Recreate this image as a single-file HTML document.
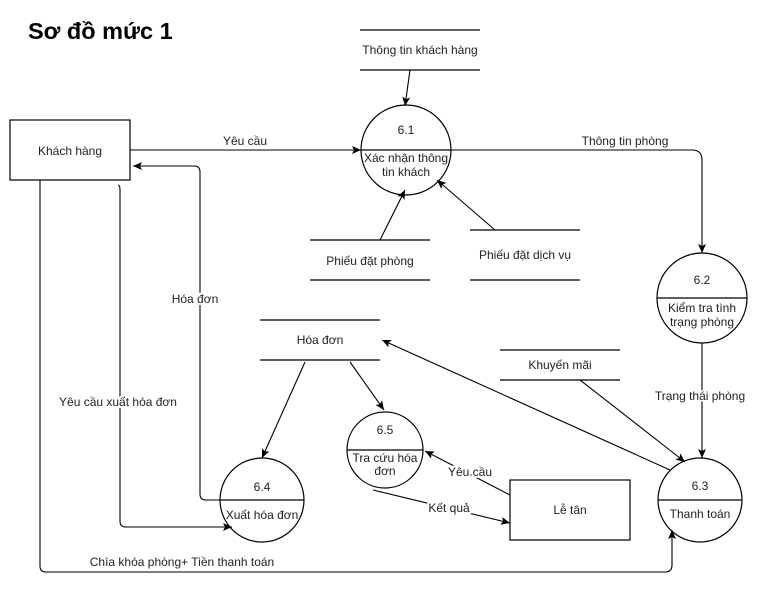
<!DOCTYPE html>
<html><head><meta charset="utf-8"><style>body{margin:0;background:#fff}svg{display:block}text{font-family:"Liberation Sans",sans-serif;font-size:12px;fill:#222}</style></head><body>
<svg width="761" height="589" viewBox="0 0 761 589">
<defs><marker id="a" markerWidth="10" markerHeight="10" refX="9" refY="5" orient="auto" markerUnits="userSpaceOnUse"><path d="M0,1 L9,5 L0,9 L2,5 Z" fill="#000"/></marker></defs>
<rect width="761" height="589" fill="#fff"/>
<text x="28" y="39" style="font-size:23.5px;font-weight:bold;fill:#000">Sơ đồ mức 1</text>
<g fill="none" stroke="#000" stroke-width="1.2">
<rect x="10" y="120" width="120" height="60"/>
<rect x="510" y="480" width="120" height="60"/>
<circle cx="406" cy="150" r="45"/><line x1="361" y1="150" x2="451" y2="150"/>
<circle cx="702" cy="298" r="45"/><line x1="657" y1="298" x2="747" y2="298"/>
<circle cx="700" cy="500" r="42"/><line x1="658" y1="500" x2="742" y2="500"/>
<circle cx="262" cy="500" r="42"/><line x1="220" y1="500" x2="304" y2="500"/>
<circle cx="385" cy="450" r="38"/><line x1="347" y1="450" x2="423" y2="450"/>
<path d="M360 30H480M360 70H480M310 240H430M310 280H430M470 230H580M470 280H580M260 320H380M260 360H380M500 350H620M500 380H620"/>
</g>
<g fill="none" stroke="#000" stroke-width="1.1" marker-end="url(#a)">
<path d="M410 70L405 106"/>
<path d="M130 150H361"/>
<path d="M451 150H692Q702 150 702 160V253"/>
<path d="M380 240L405 190"/>
<path d="M495 230L437 180"/>
<path d="M702 343V458"/>
<path d="M580 380L685 462"/>
<path d="M670 470L382 340"/>
<path d="M305 362L262 458"/>
<path d="M350 362L384 410"/>
<path d="M510 495L425 451"/>
<path d="M373 490L510 523"/>
<path d="M220 500H206Q200 500 200 494V172Q200 166 194 166H133"/>
<path d="M118 185Q120 185 120 190V521Q120 527 126 527H232"/>
<path d="M40 180V566Q40 572 46 572H665Q672 572 672 565V530"/>
</g>
<g text-anchor="middle">
<text x="70" y="155">Khách hàng</text><text x="570" y="514">Lễ tân</text>
<text x="420" y="54">Thông tin khách hàng</text>
<text x="406" y="134">6.1</text><text x="406" y="162">Xác nhận thông</text><text x="406" y="176">tin khách</text>
<text x="245" y="145">Yêu cầu</text><text x="625" y="145">Thông tin phòng</text>
<text x="370" y="265">Phiếu đặt phòng</text><text x="525" y="259">Phiếu đặt dịch vụ</text>
<text x="702" y="284">6.2</text><text x="702" y="312">Kiểm tra tình</text><text x="702" y="326">trạng phòng</text>
<text x="320" y="344">Hóa đơn</text><text x="560" y="369">Khuyến mãi</text>
<text x="700" y="400" style="fill:#fff;stroke:#fff;stroke-width:3">Trạng thái phòng</text><text x="700" y="400">Trạng thái phòng</text>
<text x="700" y="490">6.3</text><text x="700" y="518">Thanh toán</text>
<text x="262" y="491">6.4</text><text x="262" y="519">Xuất hóa đơn</text>
<text x="385" y="434">6.5</text><text x="385" y="462">Tra cứu hóa</text><text x="385" y="475">đơn</text>
<text x="195" y="303" style="fill:#fff;stroke:#fff;stroke-width:4">Hóa đơn</text><text x="195" y="303">Hóa đơn</text>
<text x="118" y="406" style="fill:#fff;stroke:#fff;stroke-width:4">Yêu cầu xuất hóa đơn</text><text x="118" y="406">Yêu cầu xuất hóa đơn</text>
<text x="470" y="476" style="fill:#fff;stroke:#fff;stroke-width:4">Yêu cầu</text><text x="470" y="476">Yêu cầu</text>
<text x="449" y="512" style="fill:#fff;stroke:#fff;stroke-width:4">Kết quả</text><text x="449" y="512">Kết quả</text>
<text x="182" y="566">Chìa khóa phòng+ Tiền thanh toán</text>
</g>
</svg>
</body></html>
